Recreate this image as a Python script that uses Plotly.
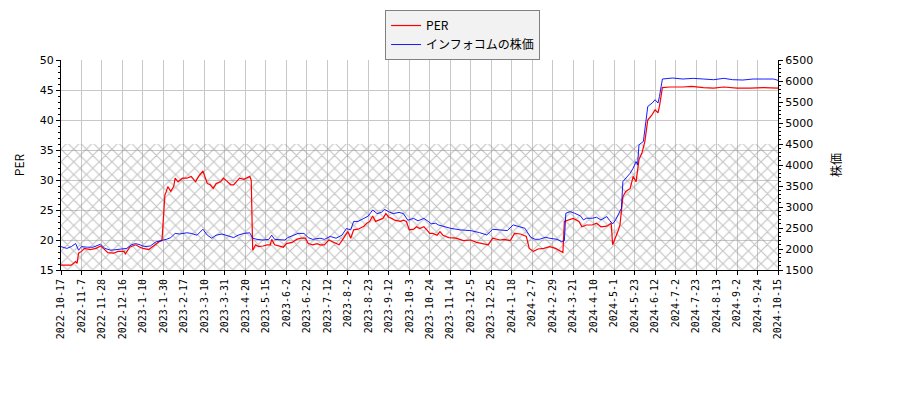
import plotly.graph_objects as go

# Tick labels (every 14 trading days)
tick_dates = ["2022-10-17", "2022-11-7", "2022-11-28", "2022-12-16", "2023-1-10", "2023-1-30",
              "2023-2-17", "2023-3-10", "2023-3-31", "2023-4-20", "2023-5-15", "2023-6-2",
              "2023-6-22", "2023-7-12", "2023-8-2", "2023-8-23", "2023-9-12", "2023-10-3",
              "2023-10-24", "2023-11-14", "2023-12-5", "2023-12-25", "2024-1-18", "2024-2-7",
              "2024-2-29", "2024-3-21", "2024-4-10", "2024-5-1", "2024-5-23", "2024-6-12",
              "2024-7-2", "2024-7-23", "2024-8-13", "2024-9-2", "2024-9-24", "2024-10-15"]
tick_step = 14

# PER series (trading-day index, value)
per_idx = [0, 7, 10, 11, 12, 14, 16, 20, 24, 27, 29, 32, 36, 39, 43, 44, 47, 51, 54, 56, 60, 63, 67, 69,
           70, 71, 72, 73, 75, 77, 78, 80, 83, 86, 89, 92, 94, 96, 97, 100, 102, 104, 106, 109, 111,
           113, 116, 118, 120, 122, 125, 127, 129, 130, 131, 133, 135, 138, 141, 143, 144, 146, 150,
           152, 154, 158, 161, 164, 167, 169, 172, 175, 177, 180, 183, 186, 190, 192, 194, 196, 198,
           200, 203, 207, 209, 211, 213, 215, 218, 220, 222, 224, 226, 228, 232, 234, 236, 238, 241,
           243, 245, 248, 250, 252, 254, 257, 259, 261, 265, 270, 275, 280, 284, 289, 292, 295, 300,
           303, 307, 310, 314, 318, 320, 323, 326, 330, 334, 338, 341, 343, 344, 347, 350, 354, 356,
           359, 363, 366, 369, 373, 376, 377, 379, 381, 382, 384, 386, 389, 391, 393, 395, 397, 399,
           401, 404, 406, 408, 409, 411, 416, 425, 431, 439, 446, 453, 462, 471, 480, 490]
per_val = [15.8, 15.8, 16.4, 16.1, 17.8, 18.1, 18.6, 18.4, 18.6, 19.0, 18.6, 17.9, 17.8, 18.1, 18.1, 17.7,
           18.8, 19.2, 18.8, 18.6, 18.4, 19.0, 19.7, 19.9,
           23.9, 27.5, 28.1, 28.9, 28.1, 28.9, 30.3, 29.7, 30.3, 30.3, 30.6, 29.7, 30.6, 31.2, 31.5,
           29.4, 29.2, 28.6, 29.4, 29.7, 30.3, 29.9, 29.2, 29.2, 29.7, 30.3, 30.1, 30.3, 30.6, 30.0,
           18.3, 19.2, 18.9, 19.0, 19.2, 19.2, 20.1, 19.2, 19.0, 18.8, 19.4, 19.6, 20.1, 20.3, 20.3,
           19.4, 19.2, 19.4, 19.2, 19.2, 20.0, 19.6, 19.2, 19.9, 20.6, 21.4, 20.3, 21.7, 21.8, 22.3,
           22.8, 23.1, 24.0, 23.1, 23.4, 23.6, 24.4, 23.8, 23.6, 23.3, 23.1, 23.3, 23.1, 21.7, 21.8,
           22.2, 21.9, 22.2, 21.7, 21.1, 21.1, 20.8, 21.4, 20.8, 20.4, 20.3, 19.9, 20.0, 19.6, 19.3,
           19.2, 20.3, 20.0, 20.1, 19.9, 21.1, 21.0, 20.6, 18.6, 18.1, 18.5, 18.6, 18.9, 18.6, 18.1,
           17.9, 23.1, 23.3, 23.6, 23.1, 22.2, 22.5, 22.5, 22.8, 22.2, 22.3, 22.8, 19.2, 20.3, 21.7,
           22.5, 27.2, 28.1, 28.6, 30.6, 29.7, 33.4, 34.5, 36.4, 40.0, 40.9, 41.7, 41.2, 42.3, 45.4,
           45.5, 45.5, 45.6, 45.4, 45.3, 45.5, 45.3, 45.3, 45.4, 45.3]

# Stock price series (trading-day index, yen)
price_idx = [0, 4, 7, 10, 12, 14, 18, 22, 27, 30, 34, 38, 43, 45, 48, 51, 54, 57, 61, 65, 70, 72, 75,
             78, 81, 86, 89, 93, 97, 100, 103, 106, 110, 113, 118, 121, 125, 129, 131, 134, 138, 142,
             144, 146, 150, 153, 155, 159, 162, 166, 169, 172, 177, 180, 184, 188, 192, 195, 198, 200,
             203, 207, 210, 213, 216, 219, 221, 224, 227, 231, 234, 237, 241, 244, 248, 251, 253, 256,
             258, 261, 266, 273, 280, 286, 291, 295, 300, 305, 309, 314, 317, 321, 324, 327, 331, 334,
             339, 342, 344, 345, 348, 351, 355, 357, 359, 363, 366, 369, 373, 375, 377, 379, 381, 383,
             384, 387, 389, 391, 393, 394, 395, 398, 399, 401, 404, 406, 408, 409, 411, 414, 418, 425,
             432, 439, 446, 453, 459, 466, 473, 480, 487, 490]
price_val = [2057, 2014, 2057, 2129, 1971, 2057, 2043, 2043, 2114, 2014, 1971, 1986, 2014, 2014, 2100,
             2129, 2100, 2057, 2071, 2171, 2214, 2229, 2271, 2371, 2357, 2386, 2371, 2329, 2471, 2329,
             2257, 2329, 2357, 2329, 2271, 2329, 2371, 2386, 2257, 2229, 2214, 2229, 2329, 2229, 2214,
             2214, 2271, 2329, 2371, 2371, 2271, 2229, 2257, 2229, 2300, 2257, 2329, 2486, 2457, 2657,
             2657, 2729, 2786, 2929, 2843, 2871, 2943, 2886, 2843, 2871, 2843, 2686, 2729, 2671, 2729,
             2657, 2600, 2614, 2571, 2543, 2494, 2454, 2438, 2390, 2335, 2470, 2454, 2438, 2573, 2533,
             2494, 2279, 2231, 2231, 2279, 2255, 2231, 2176, 2199, 2851, 2891, 2851, 2788, 2692, 2732,
             2732, 2756, 2692, 2772, 2676, 2597, 2692, 2851, 2970, 3606, 3726, 3805, 3924, 4083, 4004,
             4481, 4560, 4838, 5395, 5475, 5554, 5475, 5633, 6047, 6055, 6071, 6047, 6063, 6047, 6031,
             6063, 6031, 6023, 6047, 6047, 6047, 6015]

hatch_top = 36
n_last = 490

tick_vals = [i * tick_step for i in range(len(tick_dates))]

fig = go.Figure()

fig.add_trace(go.Scatter(
    x=[0, n_last, n_last, 0, 0], y=[15, 15, hatch_top, hatch_top, 15],
    fill="toself", mode="lines", line=dict(width=0), hoverinfo="skip",
    fillcolor="rgba(0,0,0,0)",
    fillpattern=dict(shape="x", size=9, solidity=0.25, fgcolor="#8c8c8c", bgcolor="rgba(0,0,0,0)"),
    showlegend=False, yaxis="y"))

fig.add_trace(go.Scatter(x=per_idx, y=per_val, mode="lines", name="PER",
                         line=dict(color="#ff0000", width=1.2), yaxis="y"))
fig.add_trace(go.Scatter(x=price_idx, y=price_val, mode="lines", name="インフォコムの株価",
                         line=dict(color="#0000ff", width=0.9), yaxis="y2"))

tickfont = dict(family="DejaVu Sans", size=11, color="black")

fig.update_layout(
    width=900, height=400,
    margin=dict(l=53, r=130, t=52, b=138, autoexpand=False),
    paper_bgcolor="white", plot_bgcolor="white",
    font=dict(family="Noto Sans CJK JP", color="black"),
    xaxis=dict(range=[0, n_last], tickvals=tick_vals, ticktext=tick_dates, tickangle=-90,
               tickfont=dict(family="DejaVu Sans Mono", size=10, color="black"),
               showgrid=True, gridcolor="#c8c8c8", gridwidth=1,
               showline=True, linecolor="black", linewidth=1,
               ticks="outside", ticklen=4, tickcolor="black", zeroline=False),
    yaxis=dict(range=[15, 50], dtick=5, tickfont=tickfont,
               title=dict(text="PER", font=dict(family="Noto Sans CJK JP", size=12), standoff=12),
               showgrid=True, gridcolor="#c8c8c8", gridwidth=1,
               showline=True, linecolor="black", linewidth=1,
               ticks="outside", ticklen=4, tickcolor="black", zeroline=False,
               minor=dict(dtick=1, ticks="outside", ticklen=2, tickcolor="black", showgrid=False)),
    yaxis2=dict(range=[1500, 6500], dtick=500, overlaying="y", side="right", tickfont=tickfont,
                title=dict(text="株価", font=dict(family="Noto Sans CJK JP", size=12), standoff=20),
                showgrid=False, showline=True, linecolor="black", linewidth=1,
                ticks="outside", ticklen=4, tickcolor="black", zeroline=False,
                minor=dict(dtick=100, ticks="outside", ticklen=2, tickcolor="black", showgrid=False)),
    legend=dict(x=0.452, y=1.238, xanchor="left", yanchor="top",
                bgcolor="#f2f2f2", bordercolor="#808080", borderwidth=1,
                font=dict(family="Noto Sans CJK JP", size=12), itemwidth=30,
                tracegroupgap=0),
    showlegend=True,
)

fig.write_html("out.html")
